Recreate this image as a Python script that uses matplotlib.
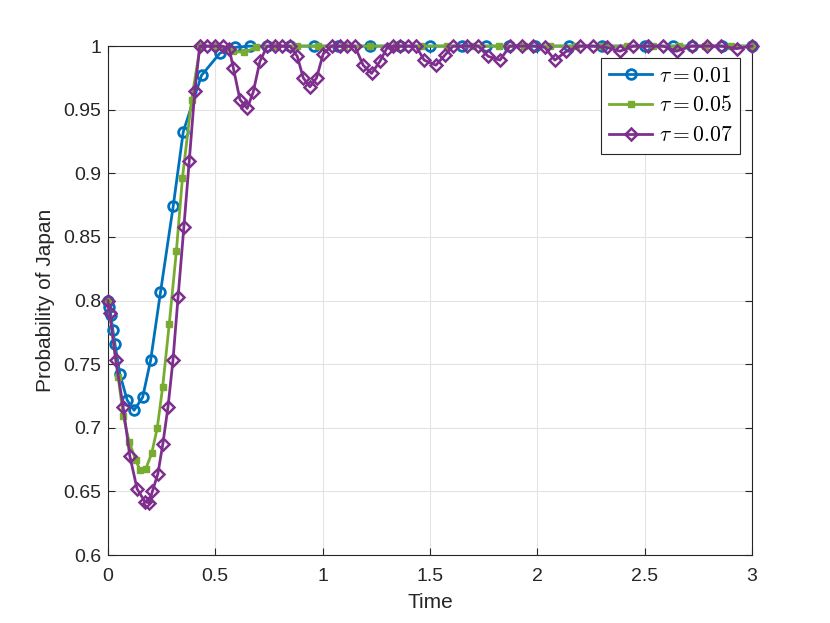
import matplotlib
matplotlib.use("Agg")
import matplotlib.pyplot as plt

# ---- data ----
t_b = [0, 0.005, 0.014, 0.023, 0.033, 0.056, 0.09, 0.122, 0.162, 0.199, 0.245, 0.304, 0.351,
       0.436, 0.522, 0.591, 0.66, 0.74, 0.85, 0.96, 1.07, 1.22, 1.36, 1.50, 1.65, 1.76,
       1.87, 1.99, 2.15, 2.30, 2.50, 2.63, 2.72, 2.86, 3.0]
p_b = [0.80, 0.795, 0.7885, 0.7767, 0.7657, 0.742, 0.7217, 0.7138, 0.7241, 0.7531, 0.8066, 0.874, 0.9327,
       0.977, 0.9945, 0.999, 1.0, 1.0, 1.0, 1.0, 1.0, 1.0, 1.0, 1.0, 1.0, 1.0,
       1.0, 1.0, 1.0, 1.0, 1.0, 1.0, 1.0, 1.0, 1.0]

t_g = [0, 0.048, 0.072, 0.099, 0.129, 0.149, 0.177, 0.204, 0.23, 0.255, 0.286, 0.319, 0.347,
       0.39, 0.43, 0.50, 0.585, 0.635, 0.69, 0.78, 0.88, 0.98, 1.1, 1.22, 1.34, 1.46,
       1.58, 1.70, 1.82, 1.94, 2.06, 2.18, 2.30, 2.42, 2.54, 2.66, 2.78, 2.90, 3.0]
p_g = [0.80, 0.740, 0.709, 0.689, 0.675, 0.667, 0.668, 0.680, 0.700, 0.732, 0.782, 0.839, 0.896,
       0.958, 1.0, 1.0, 0.996, 0.995, 0.999, 1.0, 1.0, 1.0, 1.0, 1.0, 1.0, 1.0,
       1.0, 1.0, 1.0, 1.0, 1.0, 1.0, 1.0, 1.0, 1.0, 1.0, 1.0, 1.0, 1.0]

t_p = [0, 0.009, 0.037, 0.071, 0.102, 0.136, 0.172, 0.192, 0.207, 0.233, 0.256, 0.28, 0.303,
       0.327, 0.354, 0.379, 0.405, 0.428, 0.462, 0.498, 0.534, 0.565, 0.584, 0.615, 0.649,
       0.677, 0.708, 0.742, 0.778, 0.812, 0.848, 0.882, 0.91, 0.941, 0.972, 1.003, 1.042,
       1.08, 1.115, 1.15, 1.189, 1.228, 1.267, 1.298, 1.329, 1.36, 1.399, 1.435, 1.473,
       1.528, 1.57, 1.608, 1.671, 1.725, 1.771, 1.826, 1.872, 1.927, 1.981, 2.035, 2.082,
       2.136, 2.198, 2.26, 2.323, 2.385, 2.447, 2.517, 2.586, 2.649, 2.719, 2.789, 2.858,
       2.928, 3.0]
p_p = [0.80, 0.790, 0.753, 0.7165, 0.678, 0.652, 0.642, 0.641, 0.650, 0.664, 0.6875, 0.7165, 0.753,
       0.803, 0.858, 0.910, 0.965, 1.0, 1.0, 1.0, 1.0, 0.998, 0.983, 0.958, 0.951,
       0.964, 0.988, 1.0, 1.0, 1.0, 1.0, 0.992, 0.975, 0.968, 0.975, 0.994, 1.0,
       1.0, 1.0, 1.0, 0.985, 0.9785, 0.988, 0.998, 1.0, 1.0, 1.0, 1.0, 0.989,
       0.985, 0.993, 1.0, 1.0, 1.0, 0.992, 0.989, 1.0, 1.0, 1.0, 0.999, 0.989,
       0.996, 1.0, 1.0, 0.999, 0.996, 1.0, 1.0, 1.0, 0.996, 1.0, 1.0, 1.0,
       0.998, 1.0]

labels = [r'$\tau{=}0.01$', r'$\tau{=}0.05$', r'$\tau{=}0.07$']
x_ticks = [0, 0.5, 1, 1.5, 2, 2.5, 3]
x_ticklabels = ['0', '0.5', '1', '1.5', '2', '2.5', '3']
y_ticks = [0.6, 0.65, 0.7, 0.75, 0.8, 0.85, 0.9, 0.95, 1.0]
y_ticklabels = ['0.6', '0.65', '0.7', '0.75', '0.8', '0.85', '0.9', '0.95', '1']

# ---- style ----
plt.rcParams['font.family'] = ['Liberation Sans', 'DejaVu Sans']
plt.rcParams['mathtext.fontset'] = 'cm'
axc = '#262626'

fig = plt.figure(figsize=(8.3, 6.23), dpi=100)
ax = fig.add_axes([0.13, 0.109, 0.776, 0.817])

c_b, c_g, c_p = '#0072BD', '#77AC30', '#7E2F8E'
ax.plot(t_b, p_b, '-o', color=c_b, lw=2, ms=7, mfc='none', mew=2, label=labels[0],
        zorder=3, clip_on=False)
ax.plot(t_g, p_g, '-s', color=c_g, lw=2, ms=5, mfc=c_g, mec=c_g, label=labels[1],
        zorder=3, clip_on=False)
ax.plot(t_p, p_p, '-D', color=c_p, lw=2, ms=6, mfc='none', mew=1.8, label=labels[2],
        zorder=3, clip_on=False)

ax.set_xlim(0, 3)
ax.set_ylim(0.6, 1.0)
ax.set_xticks(x_ticks)
ax.set_xticklabels(x_ticklabels)
ax.set_yticks(y_ticks)
ax.set_yticklabels(y_ticklabels)
ax.grid(True, color='#e3e3e3', lw=0.8)
ax.set_axisbelow(True)
for s in ax.spines.values():
    s.set_color(axc)
    s.set_linewidth(0.8)
ax.tick_params(direction='in', length=5, width=0.8, colors=axc, labelsize=14,
               top=True, right=True)
ax.tick_params(axis='x', pad=9)
ax.tick_params(axis='y', pad=5)
ax.set_xlabel('Time', fontsize=15, color=axc, labelpad=6)
ax.set_ylabel('Probability of Japan', fontsize=15, color=axc, labelpad=6)

leg = ax.legend(loc='upper right', bbox_to_anchor=(0.981, 0.976), borderaxespad=0,
                fontsize=15.5, fancybox=False, framealpha=1, edgecolor=axc,
                handlelength=2.0, handletextpad=0.3, borderpad=0.35, labelspacing=0.4)
leg.get_frame().set_linewidth(0.8)

fig.savefig('out.png', dpi=100, facecolor='white')
